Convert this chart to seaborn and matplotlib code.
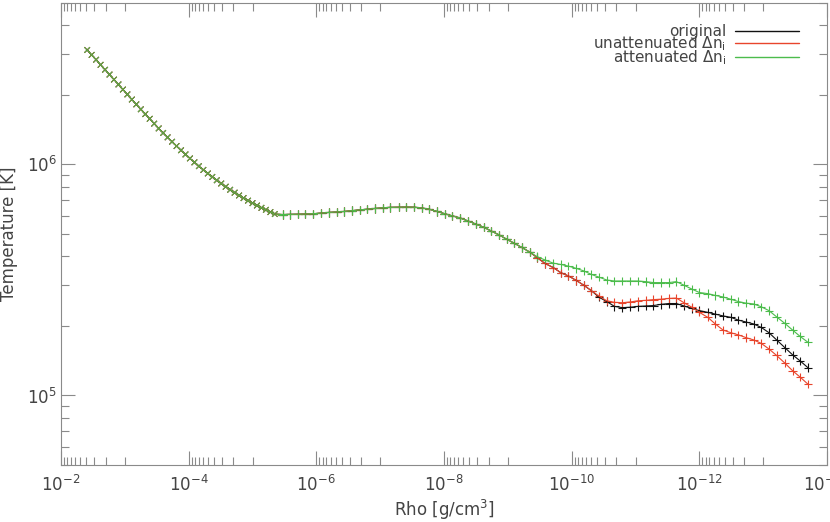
import numpy as np
import pandas as pd
import matplotlib
matplotlib.use("Agg")
import matplotlib.pyplot as plt
import matplotlib.ticker as mticker
from matplotlib.lines import Line2D
import seaborn as sns

# === inner part (dense grid, 'x' markers) - same for all three models ===
log_rho_inner = [-2.41, -2.48, -2.55, -2.62, -2.69, -2.76, -2.83, -2.90, -2.97, -3.04,
                 -3.11, -3.18, -3.25, -3.32, -3.39, -3.46, -3.53, -3.60, -3.67, -3.74,
                 -3.81, -3.88, -3.95, -4.02, -4.09, -4.16, -4.23, -4.30, -4.37, -4.44,
                 -4.51, -4.58, -4.65, -4.72, -4.79, -4.86, -4.93, -5.00, -5.07, -5.14,
                 -5.21, -5.28, -5.35]
T_inner = [31.3, 29.8, 28.4, 27.0, 25.7, 24.5, 23.3, 22.2, 21.1, 20.1,
           19.1, 18.2, 17.33, 16.52, 15.76, 15.02, 14.32, 13.69, 13.10, 12.54,
           12.01, 11.52, 11.05, 10.62, 10.21, 9.83, 9.47, 9.14, 8.83, 8.54,
           8.27, 8.01, 7.77, 7.55, 7.34, 7.15, 6.97, 6.80, 6.64, 6.49,
           6.36, 6.22, 6.10]  # units of 1e5 K

# === outer part ('+' markers) ===
log_rho_outer = [-5.47, -5.59, -5.71, -5.83, -5.95, -6.08, -6.20, -6.32, -6.44, -6.56,
                 -6.68, -6.80, -6.92, -7.04, -7.16, -7.29, -7.41, -7.53, -7.65, -7.77,
                 -7.89, -8.01, -8.13, -8.25, -8.37, -8.50, -8.62, -8.74, -8.86, -8.98,
                 -9.10, -9.22, -9.34, -9.46, -9.58, -9.71, -9.83, -9.95, -10.07, -10.19,
                 -10.31, -10.43, -10.55, -10.67, -10.79, -10.92, -11.04, -11.16, -11.28, -11.40,
                 -11.52, -11.64, -11.76, -11.88, -12.00, -12.13, -12.25, -12.37, -12.49, -12.61,
                 -12.73, -12.85, -12.97, -13.09, -13.21, -13.34, -13.46, -13.58, -13.70]
# shared by all three
T_common = [6.07, 6.08, 6.09, 6.10, 6.12, 6.16, 6.20, 6.23, 6.26, 6.31,
            6.36, 6.40, 6.45, 6.49, 6.52, 6.53, 6.54, 6.53, 6.48, 6.40,
            6.26, 6.12, 5.99, 5.87, 5.70, 5.52, 5.35, 5.15, 4.96, 4.75,
            4.56, 4.37, 4.18]
# shared by original and unattenuated
T_black_red = [3.95, 3.73, 3.58, 3.40, 3.29, 3.15, 3.00, 2.84]
T_black_tail = [2.66, 2.55, 2.43, 2.40, 2.41, 2.43, 2.44, 2.45, 2.48, 2.50,
                2.50, 2.44, 2.38, 2.33, 2.29, 2.25, 2.21, 2.18, 2.12, 2.08,
                2.04, 1.97, 1.87, 1.74, 1.61, 1.50, 1.41, 1.32]
T_red_tail = [2.69, 2.57, 2.53, 2.52, 2.54, 2.57, 2.58, 2.60, 2.61, 2.63,
              2.64, 2.52, 2.41, 2.29, 2.18, 2.04, 1.92, 1.87, 1.83, 1.78,
              1.74, 1.68, 1.59, 1.49, 1.38, 1.28, 1.20, 1.12]
T_green_tail = [3.99, 3.86, 3.74, 3.69, 3.63, 3.55, 3.46, 3.34, 3.25, 3.16,
                3.13, 3.13, 3.13, 3.13, 3.11, 3.08, 3.08, 3.08, 3.11, 3.00,
                2.89, 2.79, 2.76, 2.71, 2.67, 2.61, 2.55, 2.51, 2.49, 2.42,
                2.33, 2.19, 2.05, 1.92, 1.80, 1.70]

series = ["original", "unattenuated", "attenuated"]
labels = ["original", r"unattenuated $\Delta$n$_\mathrm{i}$", r"attenuated $\Delta$n$_\mathrm{i}$"]
colors = {"original": "#111111", "unattenuated": "#e8452c", "attenuated": "#4cbc4c"}
tails = {"original": T_black_red + T_black_tail,
         "unattenuated": T_black_red + T_red_tail,
         "attenuated": T_green_tail}

rows = []
for s in series:
    for lr, t in zip(log_rho_inner, T_inner):
        rows.append((s, 10.0 ** lr, t * 1e5, "inner"))
    for lr, t in zip(log_rho_outer, T_common + tails[s]):
        rows.append((s, 10.0 ** lr, t * 1e5, "outer"))
df = pd.DataFrame(rows, columns=["series", "rho", "T", "part"])

# === plot ===
sns.set_style("ticks")
plt.rcParams["font.family"] = ["DejaVu Sans"]
txt = "#444444"
fig = plt.figure(figsize=(8.3, 5.22), dpi=100)
ax = fig.add_axes([0.0735, 0.1092, 0.9229, 0.8851])
ax.set_xscale("log")
ax.set_yscale("log")

sns.lineplot(data=df, x="rho", y="T", hue="series", hue_order=series, palette=colors,
             sort=False, estimator=None, linewidth=0.8, legend=False, ax=ax)
sns.scatterplot(data=df[df.part == "inner"], x="rho", y="T", hue="series", hue_order=series,
                palette=colors, marker="x", s=16, linewidth=0.7, legend=False, ax=ax)
sns.scatterplot(data=df[df.part == "outer"], x="rho", y="T", hue="series", hue_order=series,
                palette=colors, marker="+", s=36, linewidth=0.8, legend=False, ax=ax)

ax.set_xlim(1e-2, 1e-14)
ax.set_ylim(5e4, 5e6)

# IDL-like ticks: majors every 2 decades, minors only in the following decade
xmaj = [10.0 ** e for e in range(-2, -15, -2)]
xmin = [k * 10.0 ** (e - 1) for e in range(-2, -15, -2) for k in range(1, 10)]
ax.xaxis.set_major_locator(mticker.FixedLocator(xmaj))
ax.xaxis.set_minor_locator(mticker.FixedLocator(xmin))
ax.xaxis.set_major_formatter(mticker.LogFormatterSciNotation())
ax.xaxis.set_minor_formatter(mticker.NullFormatter())
ax.yaxis.set_major_locator(mticker.FixedLocator([1e5, 1e6]))
ax.yaxis.set_minor_locator(mticker.LogLocator(base=10, subs=np.arange(2, 10), numticks=20))
ax.yaxis.set_minor_formatter(mticker.NullFormatter())

ax.tick_params(which="both", direction="in", top=True, right=True, color="#8a8a8a",
               width=0.8, labelsize=12, labelcolor=txt)
ax.tick_params(axis="x", pad=7)
ax.tick_params(axis="y", pad=3)
ax.tick_params(which="major", length=10)
ax.tick_params(which="minor", length=5.5)
for sp in ax.spines.values():
    sp.set_color("#8a8a8a")
    sp.set_linewidth(0.8)

ax.set_xlabel("Rho [g/cm$^3$]", fontsize=12, color=txt, labelpad=2)
ax.set_ylabel("Temperature [K]", fontsize=12, color=txt)
ax.yaxis.set_label_coords(-0.056, 0.5)

handles = [Line2D([], [], color=colors[s], lw=1.0) for s in series]
ax.legend(handles, labels, loc="upper right", bbox_to_anchor=(0.972, 0.968), frameon=False,
          markerfirst=False, handlelength=4.2, handletextpad=0.6, fontsize=11,
          labelspacing=-0.3, borderaxespad=0, labelcolor=txt)

fig.savefig("out.png", dpi=100)
